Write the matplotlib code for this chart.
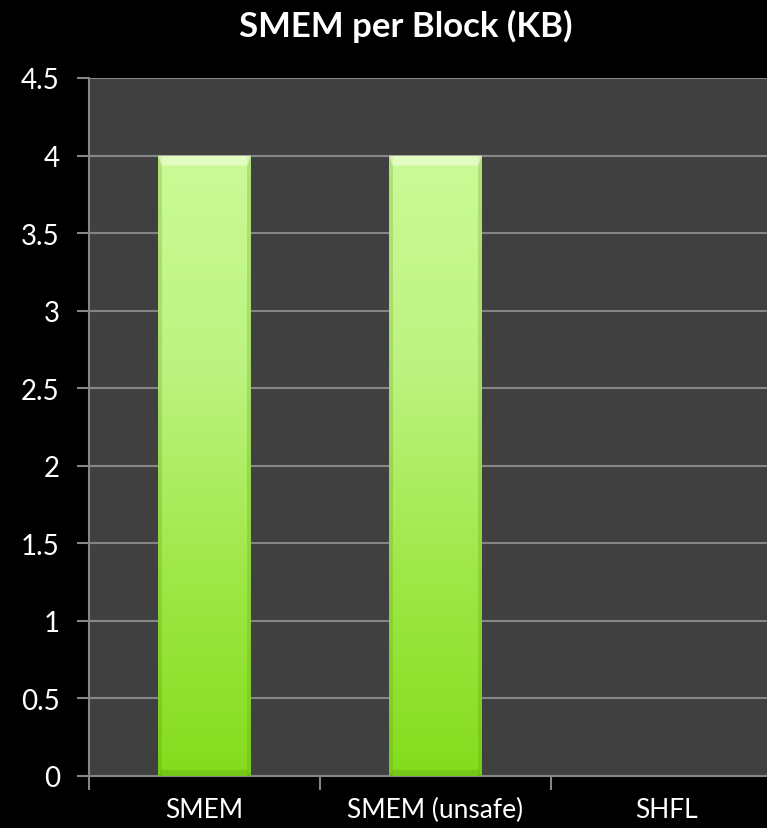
import matplotlib
matplotlib.use("Agg")
import matplotlib.pyplot as plt
import numpy as np
from matplotlib.colors import LinearSegmentedColormap
from matplotlib.patches import Rectangle, Polygon

plt.rcParams['font.family'] = ['Lato', 'DejaVu Sans']

categories = ["SMEM", "SMEM (unsafe)", "SHFL"]
smem_kb = [4, 4, 0]
y_ticks = [0, 0.5, 1, 1.5, 2, 2.5, 3, 3.5, 4, 4.5]
y_tick_labels = ["0", "0.5", "1", "1.5", "2", "2.5", "3", "3.5", "4", "4.5"]

W, H = 767, 829
fig = plt.figure(figsize=(W / 100, H / 100), dpi=100, facecolor="black")
# plot area runs off the right edge of the canvas
ax = fig.add_axes([89 / W, 1 - 777 / H, 693 / W, 698 / H])
ax.set_facecolor("#404040")

x = np.arange(len(categories))
bar_w = 0.4
green = LinearSegmentedColormap.from_list(
    "green", ["#84dc1c", "#a0e848", "#bef382", "#cafa96"])
grad = np.linspace(0, 1, 256).reshape(-1, 1)

ax.set_xlim(-0.5, len(categories) - 0.5)
ax.set_ylim(0, 4.5)

for xi, v in zip(x, smem_kb):
    if v <= 0:
        continue
    left = xi - bar_w / 2
    right = left + bar_w
    rect = Rectangle((left, 0), bar_w, v, facecolor="none", edgecolor="none", zorder=3)
    ax.add_patch(rect)
    im = ax.imshow(grad, cmap=green, aspect="auto", origin="lower",
                   extent=(left, right, 0, v), zorder=3,
                   interpolation="bilinear")
    im.set_clip_path(rect)
    # bevel: darker side edges, light top lip, darker bottom lip
    sw, th = bar_w * 0.035, 0.065
    ax.add_patch(Rectangle((left, 0), sw, v, facecolor="#4f9010",
                           alpha=0.22, edgecolor="none", zorder=4))
    ax.add_patch(Rectangle((right - sw, 0), sw, v, facecolor="#4f9010",
                           alpha=0.22, edgecolor="none", zorder=4))
    ax.add_patch(Polygon([(left, v), (right, v), (right - sw, v - th), (left + sw, v - th)],
                         closed=True, facecolor="#f4ffe0", alpha=0.6,
                         edgecolor="none", zorder=4))
    ax.add_patch(Polygon([(left, 0), (right, 0), (right - sw, th * 0.6), (left + sw, th * 0.6)],
                         closed=True, facecolor="#4f9010", alpha=0.25,
                         edgecolor="none", zorder=4))

ax.set_yticks(y_ticks)
ax.set_yticklabels(y_tick_labels)
ax.yaxis.grid(True, color="#868686", linewidth=1.5)
ax.set_axisbelow(True)

ax.set_xticks(np.arange(len(categories) + 1) - 0.5, minor=False)
ax.set_xticklabels([""] * (len(categories) + 1))
ax.set_xticks(x, minor=True)
ax.set_xticklabels(categories, minor=True)
ax.tick_params(axis="x", which="major", length=10, width=1.5, color="#868686",
               direction="out")
ax.tick_params(axis="x", which="minor", length=0, pad=15, labelsize=19,
               labelcolor="white")
ax.tick_params(axis="y", length=9, width=1.5, color="#868686", pad=12,
               labelsize=20, labelcolor="white")

for side in ["top", "right"]:
    ax.spines[side].set_visible(False)
for side in ["left", "bottom"]:
    ax.spines[side].set_color("#868686")
    ax.spines[side].set_linewidth(1.5)

fig.text(406 / W, 1 - 26 / H, "SMEM per Block (KB)", color="white",
         fontsize=25, fontweight="bold", ha="center", va="center")

fig.savefig("out.png", dpi=100, facecolor="black")
